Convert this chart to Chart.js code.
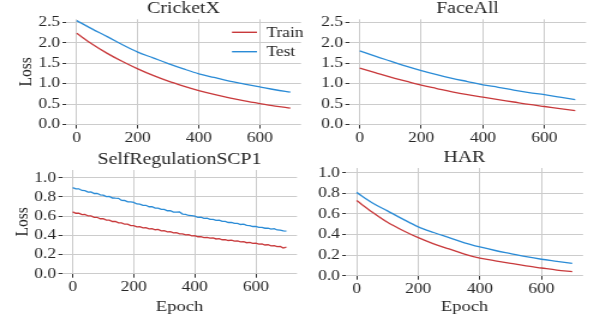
<!DOCTYPE html>
<html>
<head>
<meta charset="utf-8">
<script src="https://cdn.jsdelivr.net/npm/chart.js@4.4.1/dist/chart.umd.min.js"></script>
<style>
  html, body { margin: 0; padding: 0; background: #fff; }
  #wrap { position: relative; width: 594px; height: 324px; overflow: hidden; }
  #wrap canvas { position: absolute; }
</style>
</head>
<body>
<div id="wrap">
  <canvas id="c-cricket"></canvas>
  <canvas id="c-face"></canvas>
  <canvas id="c-scp1"></canvas>
  <canvas id="c-har"></canvas>
</div>
<script>
// loss curves, 4 datasets

const epochs50 = [0, 50, 100, 150, 200, 250, 300, 350, 400, 450, 500, 550, 600, 650, 700];
const epochs10 = [0, 10, 20, 30, 40, 50, 60, 70, 80, 90, 100, 110, 120, 130, 140, 150, 160, 170, 180, 190,
  200, 210, 220, 230, 240, 250, 260, 270, 280, 290, 300, 310, 320, 330, 340, 350, 360, 370, 380, 390,
  400, 410, 420, 430, 440, 450, 460, 470, 480, 490, 500, 510, 520, 530, 540, 550, 560, 570, 580, 590,
  600, 610, 620, 630, 640, 650, 660, 670, 680, 690, 700];

const cricketTrain = [2.23, 1.97, 1.74, 1.54, 1.36, 1.20, 1.06, 0.94, 0.83, 0.735, 0.65, 0.575, 0.51, 0.45, 0.40];
const cricketTest  = [2.54, 2.34, 2.15, 1.95, 1.77, 1.63, 1.49, 1.36, 1.24, 1.15, 1.06, 0.99, 0.92, 0.85, 0.79];

const faceTrain = [1.38, 1.27, 1.16, 1.06, 0.96, 0.88, 0.80, 0.73, 0.67, 0.61, 0.55, 0.49, 0.44, 0.39, 0.34];
const faceTest  = [1.80, 1.67, 1.55, 1.43, 1.32, 1.22, 1.13, 1.05, 0.97, 0.91, 0.84, 0.78, 0.73, 0.67, 0.61];

const scpTrain = [0.645, 0.630, 0.632, 0.616, 0.617, 0.602, 0.603, 0.588, 0.588, 0.573,
  0.574, 0.559, 0.559, 0.544, 0.545, 0.530, 0.530, 0.516, 0.516, 0.501,
  0.501, 0.489, 0.490, 0.478, 0.480, 0.468, 0.469, 0.458, 0.462, 0.447,
  0.448, 0.437, 0.438, 0.426, 0.427, 0.415, 0.416, 0.405, 0.406, 0.394,
  0.396, 0.385, 0.387, 0.377, 0.379, 0.370, 0.372, 0.362, 0.365, 0.354,
  0.356, 0.346, 0.349, 0.339, 0.341, 0.331, 0.334, 0.323, 0.326, 0.316,
  0.318, 0.308, 0.310, 0.299, 0.302, 0.291, 0.293, 0.282, 0.285, 0.268, 0.277];
const scpTest = [0.898, 0.884, 0.885, 0.868, 0.866, 0.851, 0.852, 0.836, 0.838, 0.822,
  0.818, 0.803, 0.806, 0.789, 0.787, 0.786, 0.764, 0.763, 0.749, 0.748,
  0.744, 0.727, 0.725, 0.712, 0.713, 0.698, 0.699, 0.684, 0.684, 0.670,
  0.671, 0.656, 0.656, 0.642, 0.641, 0.643, 0.622, 0.619, 0.607, 0.606,
  0.599, 0.588, 0.589, 0.577, 0.578, 0.566, 0.567, 0.556, 0.557, 0.545,
  0.546, 0.534, 0.535, 0.524, 0.525, 0.513, 0.517, 0.503, 0.502, 0.492,
  0.492, 0.483, 0.483, 0.474, 0.474, 0.465, 0.470, 0.456, 0.455, 0.446, 0.443];

const harTrain = [0.73, 0.62, 0.52, 0.44, 0.37, 0.31, 0.26, 0.21, 0.17, 0.145, 0.12, 0.095, 0.075, 0.055, 0.04];
const harTest  = [0.81, 0.71, 0.63, 0.55, 0.475, 0.42, 0.37, 0.32, 0.28, 0.245, 0.215, 0.185, 0.16, 0.14, 0.12];

const xTicks = [0, 200, 400, 600];
const yTicksBig = [0, 0.5, 1.0, 1.5, 2.0, 2.5];
const yTicksSmall = [0, 0.2, 0.4, 0.6, 0.8, 1.0];

const seriesLabels = ["Train", "Test"];
const RED = "#c8393b";
const BLUE = "#2a8bd6";
const TEXT = "#262626";
const GRID = "#cccccc";
const FONT = "'Liberation Serif', 'Times New Roman', serif";
// glyphs in the figure are wider than tall, so each canvas is drawn narrower and stretched
const SX = 1.2;

Chart.defaults.font.family = FONT;
Chart.defaults.font.size = 14;
Chart.defaults.color = TEXT;

function pts(xs, ys){ return xs.map((x, i) => ({ x: x, y: ys[i] })); }

// legend drawn inside the plot, upper right, no frame
const innerLegend = {
  id: "innerLegend",
  afterDraw(chart, args, opts){
    if(!opts.show) return;
    const ctx = chart.ctx, a = chart.chartArea;
    ctx.save();
    ctx.font = "14.5px " + FONT;
    ctx.textBaseline = "middle";
    chart.data.datasets.forEach((ds, i) => {
      const y = a.top + 13 + i * 19.4;
      ctx.strokeStyle = ds.borderColor;
      ctx.lineWidth = 1.4;
      ctx.beginPath();
      ctx.moveTo(a.right - 69 / SX, y);
      ctx.lineTo(a.right - 44 / SX, y);
      ctx.stroke();
      ctx.fillStyle = TEXT;
      ctx.fillText(ds.label, a.right - 34.5 / SX, y + 0.5);
    });
    ctx.restore();
  }
};

function makeChart(id, cell){
  const cv = document.getElementById(id);
  cv.width = Math.round(cell.w / SX); cv.height = cell.h;
  cv.style.left = cell.left + "px"; cv.style.top = cell.top + "px";
  cv.style.width = cell.w + "px"; cv.style.height = cell.h + "px";

  const smooth = cell.x.length < 20;
  const datasets = [cell.train, cell.test].map((ys, i) => ({
    label: seriesLabels[i],
    data: pts(cell.x, ys),
    borderColor: i === 0 ? RED : BLUE,
    borderWidth: 1.3,
    pointRadius: 0,
    fill: false,
    tension: 0,
    cubicInterpolationMode: smooth ? "monotone" : "default"
  }));
  datasets[0].order = 2; datasets[1].order = 1;

  return new Chart(cv, {
    type: "line",
    data: { datasets },
    plugins: [innerLegend],
    options: {
      responsive: false,
      animation: false,
      layout: { padding: { left: 0, right: cell.padR / SX, top: cell.padT, bottom: 0 } },
      plugins: {
        legend: { display: false },
        tooltip: { enabled: false },
        innerLegend: { show: !!cell.legend },
        title: {
          display: true, text: cell.title, color: TEXT, fullSize: false,
          font: { family: FONT, size: 16.5, weight: "normal", lineHeight: 1 },
          padding: { top: 0, bottom: 2.5 }
        }
      },
      scales: {
        x: {
          type: "linear", min: -35, max: 735,
          afterBuildTicks: ax => { ax.ticks = xTicks.map(v => ({ value: v })); },
          afterFit: ax => { ax.height = cell.xh; },
          grid: { color: GRID, lineWidth: 1, tickColor: "#333", tickLength: 4, drawTicks: true },
          border: { display: false },
          ticks: { color: TEXT, padding: 1, maxRotation: 0, font: { family: FONT, size: 14.5 } },
          title: {
            display: !!cell.xTitle, text: "Epoch", color: TEXT,
            font: { family: FONT, size: 15.5, lineHeight: 1.2 },
            padding: { top: 0, bottom: 8.1 }
          }
        },
        y: {
          min: 0, max: cell.ymax,
          afterBuildTicks: ax => { ax.ticks = cell.yTicks.map(v => ({ value: v })); },
          afterFit: ax => { ax.width = cell.yw / SX; },
          grid: { color: GRID, lineWidth: 1, tickColor: "#333", tickLength: 3, drawTicks: true },
          border: { display: false },
          ticks: { color: TEXT, padding: 2, font: { family: FONT, size: 14.5 }, callback: v => v.toFixed(1) },
          title: {
            display: !!cell.yTitle, text: "Loss", color: TEXT,
            font: { family: FONT, size: 15.5, lineHeight: 1.2 },
            padding: { top: cell.yTitleX / SX - 9.3, bottom: 0 }
          }
        }
      }
    }
  });
}

makeChart("c-cricket", {
  left: 0, top: 0, w: 305, h: 162, padR: 4, padT: 0.3, yw: 66, xh: 37.5,
  title: "CricketX", x: epochs50, train: cricketTrain, test: cricketTest,
  ymax: 2.573, yTicks: yTicksBig, yTitle: true, yTitleX: 26.7, legend: true
});
makeChart("c-face", {
  left: 305, top: 0, w: 289, h: 162, padR: 8, padT: 0.3, yw: 44, xh: 37.5,
  title: "FaceAll", x: epochs50, train: faceTrain, test: faceTest,
  ymax: 2.573, yTicks: yTicksBig
});
makeChart("c-scp1", {
  left: 0, top: 151, w: 305, h: 173, padR: 8, padT: 0, yw: 62, xh: 50.3,
  title: "SelfRegulationSCP1", x: epochs10, train: scpTrain, test: scpTest,
  ymax: 1.081, yTicks: yTicksSmall, yTitle: true, yTitleX: 22.5, xTitle: true
});
makeChart("c-har", {
  left: 305, top: 148.7, w: 289, h: 175.3, padR: 11, padT: 0, yw: 40.9, xh: 48.3,
  title: "HAR", x: epochs50, train: harTrain, test: harTest,
  ymax: 1.047, yTicks: yTicksSmall, xTitle: true
});
</script>
</body>
</html>
